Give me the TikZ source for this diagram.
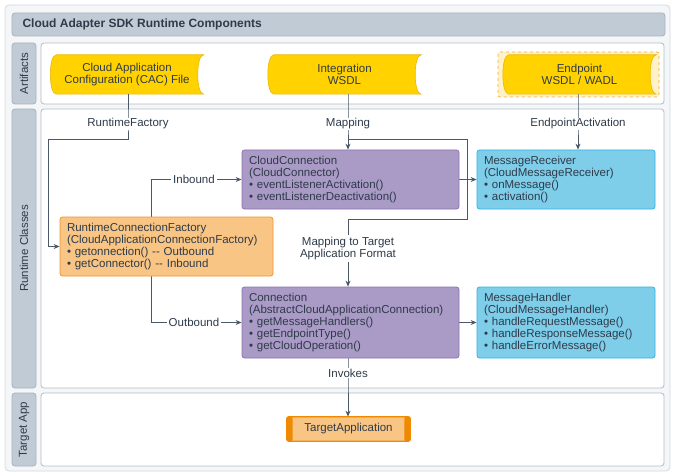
\documentclass[tikz,border=0pt]{standalone}
\usepackage{fontspec}
\setmainfont{Liberation Sans}
\usetikzlibrary{arrows.meta,calc}
\pgfdeclarelayer{bgl}\pgfdeclarelayer{mid}\pgfsetlayers{bgl,mid,main}
\definecolor{txt}{HTML}{2F3B4A}
\definecolor{lin}{HTML}{4A5868}
\definecolor{outerfill}{HTML}{F4F6F8}
\definecolor{outerdraw}{HTML}{D3D9DF}
\definecolor{barfill}{HTML}{C1CBD5}
\definecolor{bardraw}{HTML}{A7B3BF}
\definecolor{boxdraw}{HTML}{B3BDC7}
\definecolor{yel}{HTML}{FFD200}
\definecolor{yeldraw}{HTML}{EDB800}
\definecolor{dashfill}{HTML}{FFF1CA}
\definecolor{dashdraw}{HTML}{F3AE3C}
\definecolor{purfill}{HTML}{AA9AC6}
\definecolor{purdraw}{HTML}{8E72B0}
\definecolor{blufill}{HTML}{7ECEEA}
\definecolor{bludraw}{HTML}{2EB3E6}
\definecolor{orfill}{HTML}{F8C584}
\definecolor{ordraw}{HTML}{F0962E}
\definecolor{orbar}{HTML}{EF8A00}
\newcommand\tapeshape[1]{%
  \begin{pgfonlayer}{mid}
  \filldraw[fill=yel,draw=yeldraw,line width=0.6pt]
    ([xshift=6pt]#1.north west) -- (#1.north east)
    .. controls ([xshift=-8pt]#1.north east) and ([xshift=-8pt]#1.south east) .. (#1.south east)
    -- ([xshift=6pt]#1.south west)
    .. controls ([xshift=-2pt]#1.south west) and ([xshift=-2pt]#1.north west) .. cycle;
  \end{pgfonlayer}}
\tikzset{
  base/.style={font=\fontsize{11.5}{12}\selectfont, text=txt},
  tape/.style={base, rectangle, inner sep=0pt, minimum width=153pt, minimum height=39pt, align=center},
  cls/.style={base, rectangle, rounded corners=2.5pt, line width=0.8pt, align=left,
     inner xsep=7pt, inner ysep=0pt},
  purp/.style={cls, fill=purfill, draw=purdraw, text width=203pt, minimum height=#1},
  blu/.style={cls, fill=blufill, draw=bludraw, text width=164pt, minimum height=#1},
  orng/.style={cls, fill=orfill, draw=ordraw, text width=199pt, minimum height=#1},
  lbl/.style={base, fill=white, inner xsep=2pt, inner ysep=1pt, align=center},
  tab/.style={base, rotate=90},
  conn/.style={draw=lin, line width=0.8pt},
  arr/.style={conn, -{Stealth[length=6pt,width=5pt]}},
  frame/.style={fill=white, draw=boxdraw, line width=0.8pt, rounded corners=3pt},
  tabbox/.style={fill=barfill, draw=bardraw, line width=0.8pt, rounded corners=3pt},
}
\begin{document}
\begin{tikzpicture}[x=1pt,y=-1pt]
\useasboundingbox (0,0) rectangle (675,476);
\begin{pgfonlayer}{bgl}
  \filldraw[fill=outerfill, draw=outerdraw, line width=0.8pt, rounded corners=4pt] (5,5) rectangle (670,471);
  \draw[tabbox] (12,13) rectangle (665,36);
  \draw[tabbox] (12,43) rectangle (36,104);
  \draw[frame] (41,43) rectangle (664,104);
  \draw[tabbox] (12,109) rectangle (36,388);
  \draw[frame] (41,109) rectangle (664,388);
  \draw[tabbox] (12,393) rectangle (36,466);
  \draw[frame] (41,393) rectangle (664,466);
  \filldraw[fill=dashfill, draw=dashdraw, dashed, line width=0.7pt, rounded corners=2pt] (498,52) rectangle (659,97);
\end{pgfonlayer}
\node[base, font=\fontsize{12}{12}\selectfont\bfseries, anchor=west] (title) at (19,24.5) {Cloud Adapter SDK Runtime Components};
\node[tab] (tabA) at (24,73.5) {Artifacts};
\node[tab] (tabR) at (24,248.5) {Runtime Classes};
\node[tab] (tabT) at (24,429.5) {Target App};
% artifacts
\node[tape] (art1) at (127,74.5) {Cloud Application\\Configuration (CAC) File};
\node[tape] (art2) at (344.5,74.5) {Integration\\WSDL};
\node[tape] (art3) at (579.5,74.5) {Endpoint\\WSDL / WADL};
\tapeshape{art1}\tapeshape{art2}\tapeshape{art3}
% classes
\node[purp=59pt] (cc) at (350.5,179.5) {CloudConnection\\(CloudConnector)\\\textbullet\ eventListenerActivation()\\\textbullet\ eventListenerDeactivation()};
\node[blu=59pt] (mr) at (566,179.5) {MessageReceiver\\(CloudMessageReceiver)\\\textbullet\ onMessage()\\\textbullet\ activation()};
\node[orng=59pt] (rcf) at (166.5,246.5) {RuntimeConnectionFactory\\(CloudApplicationConnectionFactory)\\\textbullet\ getonnection() -{}- Outbound\\\textbullet\ getConnector() -{}- Inbound};
\node[purp=71pt] (cn) at (350.5,322.5) {Connection\\(AbstractCloudApplicationConnection)\\\textbullet\ getMessageHandlers()\\\textbullet\ getEndpointType()\\\textbullet\ getCloudOperation()};
\node[blu=71pt] (mh) at (566,322.5) {MessageHandler\\(CloudMessageHandler)\\\textbullet\ handleRequestMessage()\\\textbullet\ handleResponseMessage()\\\textbullet\ handleErrorMessage()};
% target app
\node[base, rectangle, rounded corners=2pt, fill=orfill, draw=orbar, line width=0.8pt, minimum width=123pt, minimum height=24pt, inner sep=0pt] (ta) at (348.5,429) {};
\fill[orbar, rounded corners=2pt] (ta.north west) rectangle ([xshift=6pt]ta.south west);
\fill[orbar, rounded corners=2pt] ([xshift=-6pt]ta.north east) rectangle (ta.south east);
\draw[orbar, line width=0.8pt, rounded corners=2pt] (ta.north west) rectangle (ta.south east);
\node[base] (tat) at (ta.center) {TargetApplication};
% labels
\node[lbl] (rf) at (128,124) {RuntimeFactory};
\node[lbl] (mp) at (348,124) {Mapping};
\node[lbl] (ea) at (578,124) {EndpointActivation};
\node[lbl] (ib) at (194,179.5) {Inbound};
\node[lbl] (ob) at (194,322) {Outbound};
\node[lbl, inner ysep=2pt] (mt) at (348,248.5) {Mapping to Target\\Application Format};
\node[lbl] (iv) at (348,373) {Invokes};
\coordinate (rfc) at (48,139);
\coordinate (br1) at (467,139);
\coordinate (br2) at (467,219);
\coordinate (ibc) at (151,179.5);
\coordinate (obc) at (151,322.5);
\begin{pgfonlayer}{mid}
  \draw[arr] (art1.south -| rf) -- (rf.center) |- (rfc) |- (rcf.west);
  \draw[arr] (art2.south -| mp) -- (mp.center) -- (mp |- cc.north);
  \draw[conn] (mp |- br1) -- (br1) -- (br2) -| (mt.center);
  \draw[arr] (mt.center) -- (mt |- cn.north);
  \draw[arr] (art3.south -| ea) -- (ea.center) -- (ea |- mr.north);
  \draw[arr] (cc.east) -- (mr.west);
  \draw[arr] (rcf.north -| ibc) -- (ibc) -- (ibc -| cc.west);
  \draw[arr] (rcf.south -| obc) -- (obc) -- (obc -| cn.west);
  \draw[arr] (cn.east) -- (mh.west);
  \draw[arr] (cn.south -| iv) -- (iv.center) -- (iv |- ta.north);
\end{pgfonlayer}
\end{tikzpicture}
\end{document}
